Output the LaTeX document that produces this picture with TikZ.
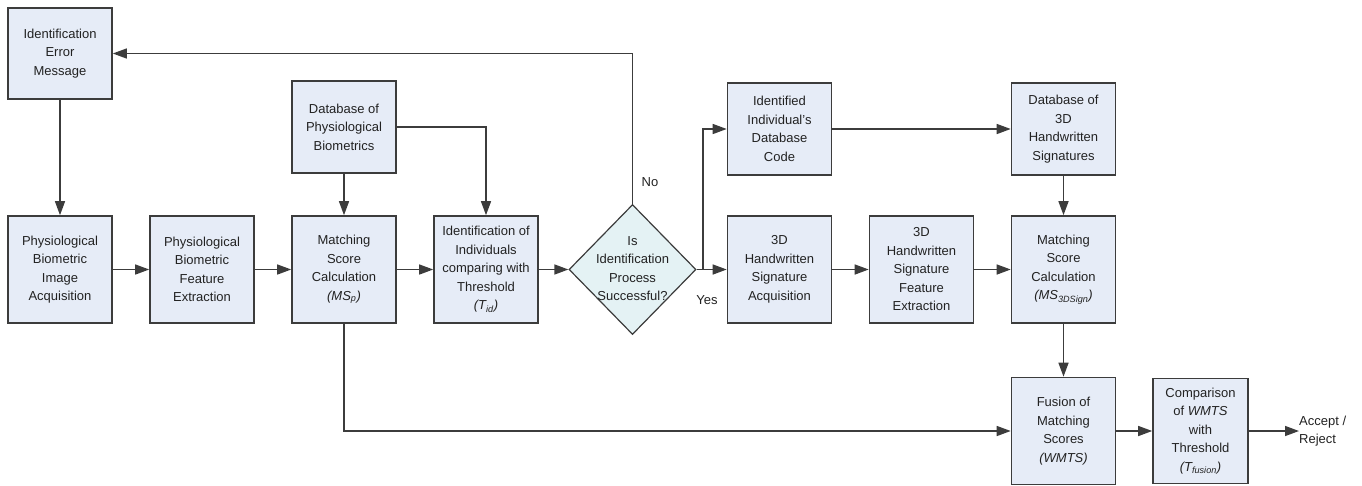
\documentclass[tikz,border=0pt]{standalone}
\usepackage{fontspec}
\setmainfont{Liberation Sans}
\usetikzlibrary{arrows.meta,shapes.geometric}
\definecolor{boxfill}{HTML}{E6ECF7}
\definecolor{diafill}{HTML}{E4F2F4}
\definecolor{edgec}{HTML}{3C3C3C}
\definecolor{txtc}{HTML}{222222}
\begin{document}
\begin{tikzpicture}[x=1pt,y=-1pt,
  box/.style={draw=edgec, line width=1.6pt, fill=boxfill, minimum width=104pt,
    minimum height=107pt, inner sep=0pt, align=center, text=txtc,
    font=\fontsize{13}{18.5}\selectfont},
  dbbox/.style={box, minimum height=92pt},
  decision/.style={diamond, draw=edgec, line width=1.2pt, fill=diafill,
    minimum width=127pt, minimum height=130pt, inner sep=0pt},
  lbl/.style={text=txtc, font=\fontsize{13}{18}\selectfont, inner sep=0pt, align=left},
  conn/.style={draw=edgec, line width=1.4pt, -{Triangle[length=14pt,width=10pt]}}
]
\useasboundingbox (0,0) rectangle (1362,485);

\node[box, minimum height=91pt] (err) at (60,53.5) {Identification\\Error\\Message};
\node[box] (img) at (60,269.5) {Physiological\\Biometric\\Image\\Acquisition};
\node[box] (feat) at (202,269.5) {Physiological\\Biometric\\Feature\\Extraction};
\node[box] (msp) at (344,269.5) {Matching\\Score\\Calculation\\\textit{(MS\textsubscript{p})}};
\node[dbbox] (dbp) at (344,127) {Database of\\Physiological\\Biometrics};
\node[box] (idt) at (486,269.5) {Identification of\\Individuals\\comparing with\\Threshold\\\textit{(T\textsubscript{id})}};
\node[decision] (dia) at (632.5,269.5) {};
\node[text=txtc, font=\fontsize{13}{18.5}\selectfont, align=center, inner sep=0pt] (diat) at (632.5,268.5) {Is\\Identification\\Process\\Successful?};
\node[dbbox] (dbc) at (779.5,129) {Identified\\Individual's\\Database\\Code};
\node[box] (acq) at (779.5,269.5) {3D\\Handwritten\\Signature\\Acquisition};
\node[box] (sfe) at (921.5,269.5) {3D\\Handwritten\\Signature\\Feature\\Extraction};
\node[box] (ms3) at (1063.5,269.5) {Matching\\Score\\Calculation\\\textit{(MS\textsubscript{3DSign})}};
\node[dbbox] (db3) at (1063.5,129) {Database of\\3D\\Handwritten\\Signatures};
\node[box] (fus) at (1063.5,431) {Fusion of\\Matching\\Scores\\\textit{(WMTS)}};
\node[box, minimum width=95pt, minimum height=105pt] (cmp) at (1200.5,431) {Comparison\\of \textit{WMTS}\\with\\Threshold\\\textit{(T\textsubscript{fusion})}};
\node[lbl, anchor=west] (acc) at (1299,431) {Accept /\\Reject};
\node[lbl] (no) at (650,182) {No};
\node[lbl] (yes) at (707,300) {Yes};

\coordinate (br) at (703,269.5);

\draw[conn] (err) -- (img);
\draw[conn] (img) -- (feat);
\draw[conn] (feat) -- (msp);
\draw[conn] (dbp) -- (msp);
\draw[conn] (msp) -- (idt);
\draw[conn] (dbp.east) -| (idt.north);
\draw[conn] (idt) -- (dia);
\draw[conn] (dia.north) |- (err.east);
\draw[conn] (dia.east) -- (acq.west);
\draw[conn] (br) |- (dbc.west);
\draw[conn] (dbc) -- (db3);
\draw[conn] (acq) -- (sfe);
\draw[conn] (sfe) -- (ms3);
\draw[conn] (db3) -- (ms3);
\draw[conn] (ms3) -- (fus);
\draw[conn] (msp.south) |- (fus.west);
\draw[conn] (fus) -- (cmp);
\draw[conn] (cmp.east) -- (acc.west);
\end{tikzpicture}
\end{document}
